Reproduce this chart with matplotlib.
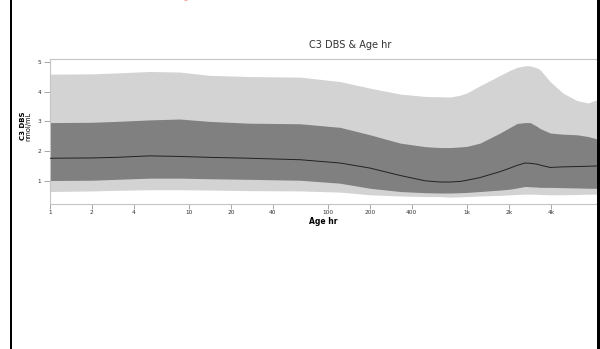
import matplotlib
matplotlib.use('Agg')
import matplotlib.pyplot as plt
import matplotlib.patches as patches
from matplotlib.ticker import FixedLocator, NullLocator

# Age (hr) grid and percentile bands
ages = [1, 2, 3, 5.2, 8.6, 14, 27, 63, 122, 200, 330, 500, 640, 755, 890,
        1000, 1240, 1730, 2040, 2290, 2610, 2840, 3190, 3350, 3960, 4900,
        6170, 7430, 8600]
outer_hi = [4.59, 4.60, 4.63, 4.68, 4.66, 4.55, 4.51, 4.49, 4.34, 4.12, 3.92,
            3.84, 3.83, 3.82, 3.88, 3.96, 4.20, 4.55, 4.72, 4.82, 4.87, 4.87,
            4.80, 4.74, 4.34, 3.95, 3.70, 3.62, 3.73]
inner_hi = [2.96, 2.97, 3.00, 3.05, 3.08, 3.00, 2.94, 2.92, 2.80, 2.55, 2.27,
            2.15, 2.12, 2.12, 2.14, 2.16, 2.27, 2.61, 2.80, 2.93, 2.96, 2.96,
            2.83, 2.76, 2.61, 2.57, 2.55, 2.49, 2.41]
median = [1.76, 1.77, 1.79, 1.84, 1.82, 1.79, 1.76, 1.71, 1.60, 1.43, 1.18,
          1.00, 0.96, 0.96, 0.98, 1.02, 1.11, 1.31, 1.43, 1.52, 1.60, 1.59,
          1.56, 1.53, 1.45, 1.47, 1.48, 1.49, 1.50]
inner_lo = [1.01, 1.02, 1.05, 1.09, 1.09, 1.07, 1.05, 1.02, 0.92, 0.75, 0.64,
            0.60, 0.59, 0.59, 0.60, 0.61, 0.64, 0.69, 0.72, 0.76, 0.81, 0.80,
            0.79, 0.78, 0.78, 0.77, 0.76, 0.75, 0.75]
outer_lo = [0.64, 0.66, 0.68, 0.70, 0.70, 0.69, 0.67, 0.66, 0.62, 0.53, 0.49,
            0.47, 0.47, 0.45, 0.46, 0.47, 0.49, 0.51, 0.53, 0.54, 0.55, 0.55,
            0.55, 0.54, 0.53, 0.53, 0.54, 0.55, 0.55]

x_ticks = [1, 2, 4, 10, 20, 40, 100, 200, 400, 1000, 2000, 4000]
x_tick_labels = ['1', '2', '4', '10', '20', '40', '100', '200', '400', '1k', '2k', '4k']
y_ticks = [1, 2, 3, 4, 5]

W, H = 600, 349
fig = plt.figure(figsize=(W / 100, H / 100), dpi=100)
ax = fig.add_axes([50 / W, 1 - 204 / H, 547 / W, 145 / H])

ax.fill_between(ages, outer_lo, outer_hi, color='#d3d3d3', linewidth=0, zorder=1)
ax.fill_between(ages, inner_lo, inner_hi, color='#808080', linewidth=0, zorder=2)
ax.plot(ages, median, color='#222222', linewidth=0.7, zorder=3)

ax.set_xscale('log')
ax.set_xlim(1, 8600)
ax.set_ylim(0.22, 5.1)

ax.xaxis.set_major_locator(FixedLocator(x_ticks))
ax.xaxis.set_minor_locator(NullLocator())
ax.set_xticklabels(x_tick_labels)
ax.set_yticks(y_ticks)

ax.tick_params(axis='both', colors='#999999', labelcolor='#333333',
               labelsize=4.2, width=0.6)
ax.tick_params(axis='y', length=4.5, pad=2)
ax.tick_params(axis='x', length=3.6, pad=1)

for side in ['left', 'bottom', 'top']:
    ax.spines[side].set_color('#c4c4c4')
    ax.spines[side].set_linewidth(0.8)
ax.spines['right'].set_visible(False)

ax.set_xlabel('Age hr', fontsize=5.5, fontweight='bold', labelpad=1)

# y label: bold name over units
fig.text(23 / W, 1 - 126 / H, 'C3 DBS', rotation=90, fontsize=5,
         fontweight='bold', ha='center', va='center')
fig.text(28.5 / W, 1 - 126 / H, 'nmol/mL', rotation=90, fontsize=4.8,
         ha='center', va='center')

fig.text(350 / W, 1 - 45 / H, 'C3 DBS & Age hr', fontsize=7, color='#333333',
         ha='center', va='center')

# screenshot frame bits
fig.add_artist(patches.Rectangle((9.5 / W, 0), 2.5 / W, 1, transform=fig.transFigure,
                                 facecolor='black', edgecolor='none'))
fig.add_artist(patches.Rectangle((597 / W, 0), 3 / W, 1, transform=fig.transFigure,
                                 facecolor='black', edgecolor='none'))
fig.add_artist(patches.Ellipse((186 / W, 1 + 4 / H), 10 / W, 9 / H, transform=fig.transFigure,
                               facecolor='#f05050', edgecolor='none'))

fig.savefig('out.png', dpi=100)
